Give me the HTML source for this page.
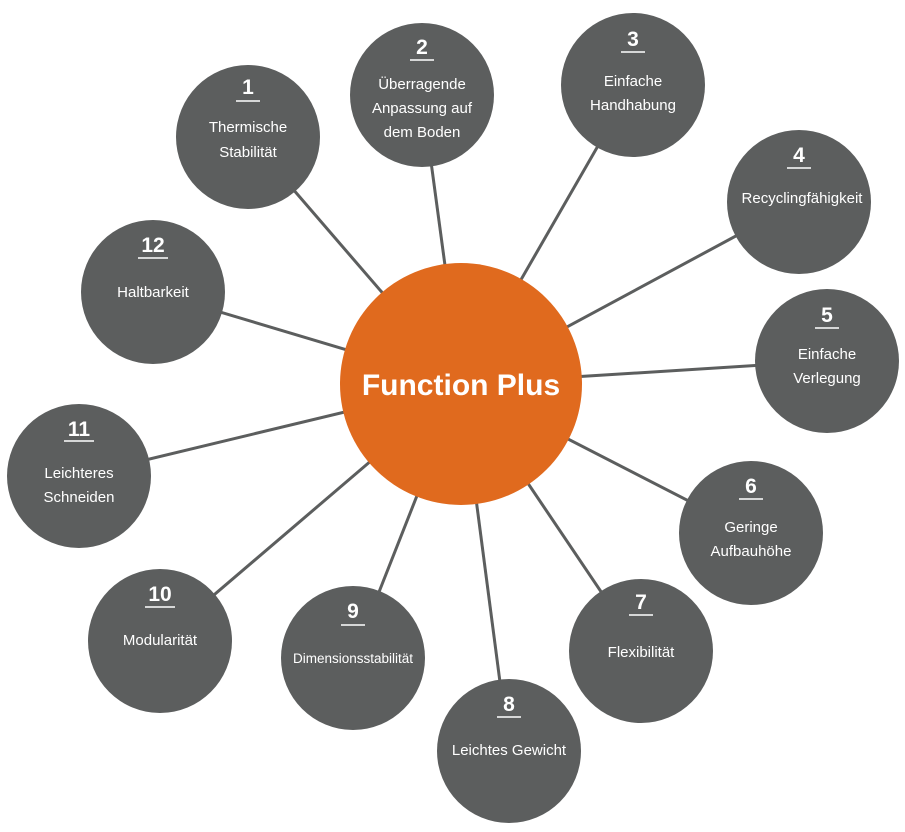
<!DOCTYPE html>
<html><head><meta charset="utf-8"><style>
html,body{margin:0;padding:0;background:#fff;}
svg{display:block;}
text{font-family:"Liberation Sans",sans-serif;fill:#fff;text-anchor:middle;}
.n{font-weight:bold;font-size:21px;}
.t{font-size:15px;}
</style></head><body>
<svg width="905" height="832" viewBox="0 0 905 832">
<g stroke="#5c5e5e" stroke-width="3">
<line x1="461" y1="384" x2="248" y2="137"/>
<line x1="461" y1="384" x2="422" y2="95"/>
<line x1="461" y1="384" x2="633" y2="85"/>
<line x1="461" y1="384" x2="799" y2="202"/>
<line x1="461" y1="384" x2="827" y2="361"/>
<line x1="461" y1="384" x2="751" y2="533"/>
<line x1="461" y1="384" x2="641" y2="651"/>
<line x1="461" y1="384" x2="509" y2="751"/>
<line x1="461" y1="384" x2="353" y2="658"/>
<line x1="461" y1="384" x2="160" y2="641"/>
<line x1="461" y1="384" x2="79" y2="476"/>
<line x1="461" y1="384" x2="153" y2="292"/>
</g>
<g fill="#5c5e5e">
<circle cx="248" cy="137" r="72"/><circle cx="422" cy="95" r="72"/>
<circle cx="633" cy="85" r="72"/><circle cx="799" cy="202" r="72"/>
<circle cx="827" cy="361" r="72"/><circle cx="751" cy="533" r="72"/>
<circle cx="641" cy="651" r="72"/><circle cx="509" cy="751" r="72"/>
<circle cx="353" cy="658" r="72"/><circle cx="160" cy="641" r="72"/>
<circle cx="79" cy="476" r="72"/><circle cx="153" cy="292" r="72"/>
</g>
<circle cx="461" cy="384" r="121" fill="#e06a1e"/>
<text x="461" y="395" style="font-weight:bold;font-size:30px">Function Plus</text>
<g stroke="#fff" stroke-width="1.5">
<line x1="236" y1="101" x2="260" y2="101"/>
<line x1="410" y1="60" x2="434" y2="60"/>
<line x1="621" y1="52" x2="645" y2="52"/>
<line x1="787" y1="168" x2="811" y2="168"/>
<line x1="815" y1="328" x2="839" y2="328"/>
<line x1="739" y1="499" x2="763" y2="499"/>
<line x1="629" y1="615" x2="653" y2="615"/>
<line x1="497" y1="717" x2="521" y2="717"/>
<line x1="341" y1="625" x2="365" y2="625"/>
<line x1="145" y1="607" x2="175" y2="607"/>
<line x1="64" y1="441" x2="94" y2="441"/>
<line x1="138" y1="258" x2="168" y2="258"/>
</g>
<text class="n" x="248" y="94">1</text>
<text class="t" x="248" y="132">Thermische</text><text class="t" x="248" y="157">Stabilität</text>
<text class="n" x="422" y="54">2</text>
<text class="t" x="422" y="89">Überragende</text><text class="t" x="422" y="113">Anpassung auf</text><text class="t" x="422" y="137">dem Boden</text>
<text class="n" x="633" y="46">3</text>
<text class="t" x="633" y="86">Einfache</text><text class="t" x="633" y="110">Handhabung</text>
<text class="n" x="799" y="162">4</text>
<text class="t" x="802" y="203">Recyclingfähigkeit</text>
<text class="n" x="827" y="322">5</text>
<text class="t" x="827" y="359">Einfache</text><text class="t" x="827" y="383">Verlegung</text>
<text class="n" x="751" y="493">6</text>
<text class="t" x="751" y="532">Geringe</text><text class="t" x="751" y="556">Aufbauhöhe</text>
<text class="n" x="641" y="609">7</text>
<text class="t" x="641" y="657">Flexibilität</text>
<text class="n" x="509" y="711">8</text>
<text class="t" x="509" y="755">Leichtes Gewicht</text>
<text class="n" x="353" y="618">9</text>
<text class="t" x="353" y="663" style="font-size:13.5px">Dimensionsstabilität</text>
<text class="n" x="160" y="601">10</text>
<text class="t" x="160" y="645">Modularität</text>
<text class="n" x="79" y="436">11</text>
<text class="t" x="79" y="478">Leichteres</text><text class="t" x="79" y="502">Schneiden</text>
<text class="n" x="153" y="252">12</text>
<text class="t" x="153" y="297">Haltbarkeit</text>
</svg>
</body></html>
